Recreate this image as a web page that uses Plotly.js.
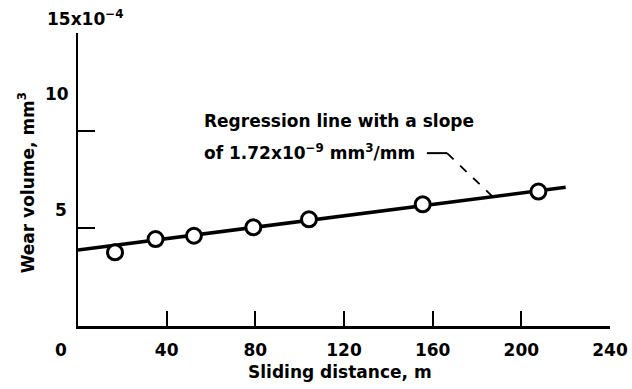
<!DOCTYPE html>
<html>
<head>
<meta charset="utf-8">
<script src="https://cdn.plot.ly/plotly-3.0.1.min.js"></script>
<style>
  html, body { margin: 0; padding: 0; background: #fff; }
  #chart { width: 632px; height: 389px; }
</style>
</head>
<body>
<div id="chart"></div>
<script>
// Measured data (wear volume in units of 1e-4 mm^3)
const slidingDistance = [16.7, 35.0, 52.3, 79.1, 104.2, 155.5, 207.7];
const wearVolume = [3.77, 4.45, 4.62, 5.05, 5.46, 6.23, 6.88];
// Regression line end points
const fitDistance = [0, 220];
const fitVolume = [3.89, 7.10];
// Ticks
const xTickVals = [40, 80, 120, 160, 200, 240];
const xTickText = ['40', '80', '120', '160', '200', '240'];
const yTickVals = [5, 10, 15];

const FONT = {family: 'DejaVu Sans', size: 17, color: '#000', weight: 'bold'};

const traces = [
  {
    x: fitDistance, y: fitVolume, mode: 'lines', type: 'scatter',
    line: {color: '#000', width: 3.5}, hoverinfo: 'skip', showlegend: false
  },
  {
    x: slidingDistance, y: wearVolume, mode: 'markers', type: 'scatter',
    marker: {symbol: 'circle', size: 15, color: '#fff', line: {color: '#000', width: 3}},
    showlegend: false, cliponaxis: false
  }
];

const layout = {
  width: 632, height: 389,
  margin: {l: 78, r: 22, t: 33, b: 63, pad: 0},
  paper_bgcolor: '#fff', plot_bgcolor: '#fff',
  font: FONT,
  showlegend: false,
  xaxis: {
    range: [0, 240], showgrid: false, zeroline: false,
    showline: true, linecolor: '#000', linewidth: 2.5,
    ticks: 'inside', ticklen: 15, tickwidth: 2, tickcolor: '#000',
    tickvals: xTickVals, ticktext: xTickText,
    tickfont: FONT, ticklabelstandoff: 7, automargin: false
  },
  yaxis: {
    range: [0, 15], showgrid: false, zeroline: false,
    showline: true, linecolor: '#000', linewidth: 2.5,
    ticks: 'inside', ticklen: 17, tickwidth: 2, tickcolor: '#000',
    tickvals: yTickVals, showticklabels: false, automargin: false
  },
  annotations: [
    // y tick labels (placed as in the original figure)
    {xref: 'paper', yref: 'paper', x: -0.032, y: 0.396, text: '5', showarrow: false, font: FONT, xanchor: 'center', yanchor: 'middle'},
    {xref: 'paper', yref: 'paper', x: -0.040, y: 0.792, text: '10', showarrow: false, font: FONT, xanchor: 'center', yanchor: 'middle'},
    {xref: 'paper', yref: 'paper', x: -0.062, y: 1.05, text: '15x10<sup>−4</sup>', showarrow: false, font: FONT, xanchor: 'left', yanchor: 'middle'},
    // origin label
    {xref: 'paper', yref: 'paper', x: -0.0325, y: -0.082, text: '0', showarrow: false, font: FONT, xanchor: 'center', yanchor: 'middle'},
    // axis titles
    {xref: 'paper', yref: 'paper', x: 0.493, y: -0.157, text: 'Sliding distance, m', showarrow: false, font: FONT, xanchor: 'center', yanchor: 'middle'},
    {xref: 'paper', yref: 'paper', x: -0.096, y: 0.49, text: 'Wear volume, mm<sup>3</sup>', textangle: -90, showarrow: false, font: FONT, xanchor: 'center', yanchor: 'middle'},
    // regression label
    {xref: 'x', yref: 'y', x: 55.8, y: 10.5, text: 'Regression line with a slope', showarrow: false, font: FONT, xanchor: 'left', yanchor: 'middle'},
    {xref: 'x', yref: 'y', x: 55.8, y: 8.91, text: 'of 1.72x10<sup>−9</sup> mm<sup>3</sup>/mm', showarrow: false, font: FONT, xanchor: 'left', yanchor: 'middle'}
  ],
  shapes: [
    {type: 'line', xref: 'x', yref: 'y', x0: 157.4, y0: 8.85, x1: 166.5, y1: 8.85, line: {color: '#000', width: 2}},
    {type: 'line', xref: 'x', yref: 'y', x0: 166.5, y0: 8.85, x1: 186.8, y1: 6.65, line: {color: '#000', width: 1.8, dash: 'dash'}}
  ]
};

Plotly.newPlot('chart', traces, layout, {staticPlot: true, displayModeBar: false});
</script>
</body>
</html>
